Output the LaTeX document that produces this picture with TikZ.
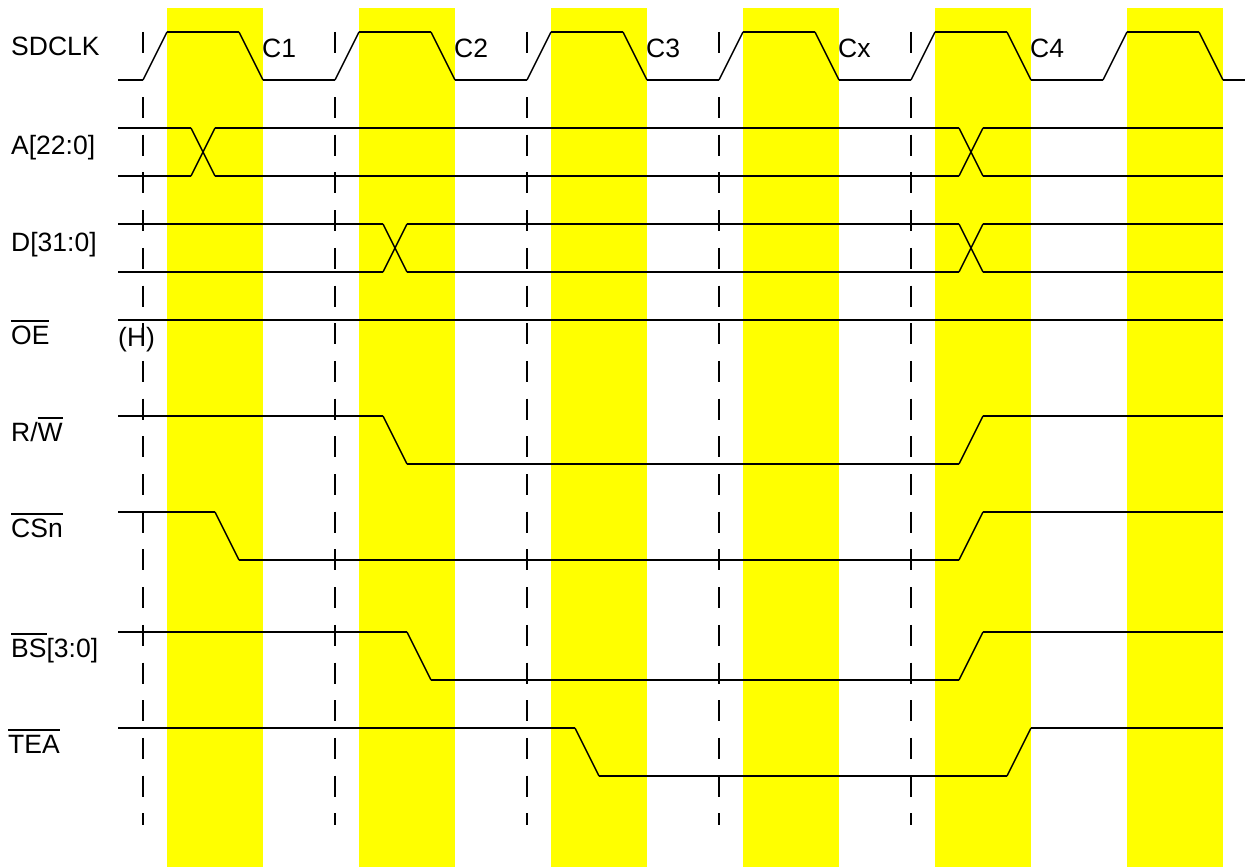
\documentclass[tikz,border=0pt]{standalone}
\usepackage{fontspec}
\setmainfont{Liberation Sans}
\definecolor{bandyellow}{RGB}{255,255,0}
\newcommand\ob[1]{\setbox0\hbox{#1}\rlap{\rule[22pt]{\wd0}{1.7pt}}\box0}
\tikzset{
  band/.style={fill=bandyellow, draw=none},
  sig/.style={line width=2.3pt, line join=miter},
  edge/.style={line width=1.4pt},
  guide/.style={line width=2.2pt, dash pattern=on 21pt off 16.7pt},
  lbl/.style={anchor=base west, inner sep=0pt, font=\fontsize{26.5pt}{31pt}\selectfont},
}
\begin{document}
\begin{tikzpicture}[x=1pt,y=-1pt]
\useasboundingbox (0,0) rectangle (1247,867);
% yellow bands
\foreach \i in {0,...,5}{
  \fill[band] ({167+192*\i},8) rectangle ({263+192*\i},867);
}
% dashed guides
\foreach \x in {143,335,527,719,911}{
  \draw[line width=2.2pt] (\x,32) -- (\x,53);
  \draw[guide] (\x,97) -- (\x,825);
}
% SDCLK
\draw[sig] (118,80) -- (143,80);
\foreach \i in {0,...,5}{
  \pgfmathsetmacro\b{167+192*\i}
  \draw[edge] (\b-24,80) -- (\b,32);
  \draw[sig] (\b,32) -- (\b+72,32);
  \draw[edge] (\b+72,32) -- (\b+96,80);
}
\foreach \i in {0,...,4}{
  \pgfmathsetmacro\b{167+192*\i}
  \draw[sig] (\b+96,80) -- (\b+168,80);
}
\draw[sig] (1223,80) -- (1245,80);
% A[22:0]
\draw[sig] (118,128) -- (191,128) (215,128) -- (959,128) (983,128) -- (1223,128);
\draw[sig] (118,176) -- (191,176) (215,176) -- (959,176) (983,176) -- (1223,176);
\draw[edge] (191,128) -- (215,176) (191,176) -- (215,128);
\draw[edge] (959,128) -- (983,176) (959,176) -- (983,128);
% D[31:0]
\draw[sig] (118,224) -- (383,224) (407,224) -- (959,224) (983,224) -- (1223,224);
\draw[sig] (118,272) -- (383,272) (407,272) -- (959,272) (983,272) -- (1223,272);
\draw[edge] (383,224) -- (407,272) (383,272) -- (407,224);
\draw[edge] (959,224) -- (983,272) (959,272) -- (983,224);
% OE
\draw[sig] (118,320) -- (1223,320);
% R/W
\draw[sig] (118,416) -- (383,416) (407,464) -- (959,464) (983,416) -- (1223,416);
\draw[edge] (383,416) -- (407,464) (959,464) -- (983,416);
% CSn
\draw[sig] (118,512) -- (215,512) (239,560) -- (959,560) (983,512) -- (1223,512);
\draw[edge] (215,512) -- (239,560) (959,560) -- (983,512);
% BS
\draw[sig] (118,632) -- (407,632) (431,680) -- (959,680) (983,632) -- (1223,632);
\draw[edge] (407,632) -- (431,680) (959,680) -- (983,632);
% TEA
\draw[sig] (118,728) -- (575,728) (599,776) -- (1007,776) (1031,728) -- (1223,728);
\draw[edge] (575,728) -- (599,776) (1007,776) -- (1031,728);
% labels
\node[lbl] (lclk) at (11,56) {SDCLK};
\node[lbl] (la) at (11,154) {A[22:0]};
\node[lbl] (ld) at (11,251) {D[31:0]};
\node[lbl] (loe) at (11,344) {\ob{OE}};
\node[lbl] (lh) at (118,346) {(H)};
\node[lbl] (lrw) at (11,441) {R/\ob{W}};
\node[lbl] (lcs) at (11,537) {\ob{CSn}};
\node[lbl] (lbs) at (11,657) {\ob{BS}[3:0]};
\node[lbl] (ltea) at (8,753) {\ob{TEA}};
\node[lbl] (c1) at (262,58) {C1};
\node[lbl] (c2) at (454,58) {C2};
\node[lbl] (c3) at (646,58) {C3};
\node[lbl] (cx) at (838,58) {Cx};
\node[lbl] (c4) at (1030,58) {C4};
\end{tikzpicture}
\end{document}
